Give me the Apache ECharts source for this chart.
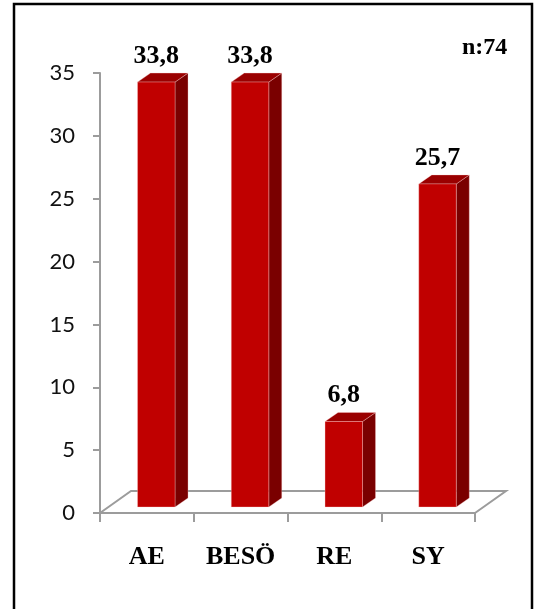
<!DOCTYPE html>
<html>
<head>
<meta charset="utf-8">
<script src="https://cdn.jsdelivr.net/npm/echarts@6/dist/echarts.min.js"></script>
<style>
  html, body { margin: 0; padding: 0; background: #ffffff; }
  #chart { width: 543px; height: 609px; }
</style>
</head>
<body>
<div id="chart"></div>
<script>
// Group shares (%) by category
const categories = ['AE', 'BESÖ', 'RE', 'SY'];
const values = [33.8, 33.8, 6.8, 25.7];
const yMin = 0;
const yMax = 35;
const yStep = 5;
const sampleNote = 'n:74';

const serifBold = '"Liberation Serif", "Times New Roman", serif';
const axisGray = '#9c9c9c';

// Pseudo-3D geometry (pixels)
const FLOOR_DX = 31, FLOOR_DY = -22;   // depth of the floor plate
const BAR_DX = 9.4, BAR_DY = -6;       // bar front face sits inside the floor
const SIDE_DX = 13, SIDE_DY = -9;      // bar thickness
const BAR_RATIO = 0.4;

function fmt(v) { return v.toFixed(1).replace('.', ','); }

const chart = echarts.init(document.getElementById('chart'), null, { renderer: 'canvas' });

const option = {
  backgroundColor: '#ffffff',
  animation: false,
  grid: { left: 100, right: 68, top: 73, bottom: 96 },
  xAxis: {
    type: 'category',
    data: categories,
    boundaryGap: true,
    axisLine: { show: true, lineStyle: { color: axisGray, width: 2 } },
    axisTick: { show: true, length: 9, lineStyle: { color: axisGray, width: 2 } },
    axisLabel: {
      margin: 44,
      verticalAlign: 'middle',
      fontFamily: serifBold,
      fontWeight: 'bold',
      fontSize: 26,
      color: '#000'
    },
    splitLine: { show: false }
  },
  yAxis: {
    type: 'value',
    min: yMin,
    max: yMax,
    interval: yStep,
    axisLine: { show: true, lineStyle: { color: axisGray, width: 2 } },
    axisTick: { show: true, length: 7, lineStyle: { color: axisGray, width: 2 } },
    axisLabel: { margin: 25, fontFamily: 'Lato, "Open Sans", sans-serif', fontSize: 22, color: '#111' },
    splitLine: { show: false }
  },
  graphic: [
    {
      type: 'rect',
      shape: { x: 14, y: 4, width: 518, height: 720 },
      style: { fill: 'transparent', stroke: '#000', lineWidth: 2.5 },
      silent: true
    },
    {
      type: 'text',
      x: 462,
      y: 47.5,
      style: {
        text: sampleNote,
        fontFamily: serifBold,
        fontWeight: 'bold',
        fontSize: 24,
        fill: '#000',
        align: 'left',
        verticalAlign: 'middle'
      },
      silent: true
    }
  ],
  series: [
    {
      // floor plate outline behind the bars
      type: 'custom',
      z: 1,
      data: [[0, 0]],
      encode: { x: 0, y: 1 },
      renderItem: function (params, api) {
        const cs = params.coordSys;
        const x0 = cs.x, x1 = cs.x + cs.width, yb = cs.y + cs.height;
        return {
          type: 'polyline',
          shape: {
            points: [
              [x0, yb],
              [x0 + FLOOR_DX, yb + FLOOR_DY],
              [x1 + FLOOR_DX, yb + FLOOR_DY],
              [x1, yb]
            ]
          },
          style: { stroke: axisGray, lineWidth: 2, fill: null }
        };
      }
    },
    {
      type: 'custom',
      z: 2,
      data: values.map((v, i) => [i, v]),
      encode: { x: 0, y: 1 },
      renderItem: function (params, api) {
        const idx = api.value(0);
        const val = api.value(1);
        const base = api.coord([idx, 0]);
        const top = api.coord([idx, val]);
        const band = api.size([1, 0])[0];
        const w = band * BAR_RATIO;
        const cx = base[0] + BAR_DX;
        const xL = cx - w / 2, xR = cx + w / 2;
        const yB = base[1] + BAR_DY, yT = top[1] + BAR_DY;
        const edge = { stroke: 'rgba(255,210,210,0.55)', lineWidth: 0.6 };
        return {
          type: 'group',
          children: [
            {
              type: 'polygon',
              shape: { points: [[xR, yT], [xR + SIDE_DX, yT + SIDE_DY], [xR + SIDE_DX, yB + SIDE_DY], [xR, yB]] },
              style: Object.assign({ fill: '#7a0000' }, edge)
            },
            {
              type: 'polygon',
              shape: { points: [[xL, yT], [xR, yT], [xR + SIDE_DX, yT + SIDE_DY], [xL + SIDE_DX, yT + SIDE_DY]] },
              style: Object.assign({ fill: '#9a0000' }, edge)
            },
            {
              type: 'rect',
              shape: { x: xL, y: yT, width: w, height: yB - yT },
              style: Object.assign({ fill: '#c00000' }, edge)
            },
            {
              type: 'text',
              x: cx,
              y: yT - 26,
              style: {
                text: fmt(val),
                fontFamily: serifBold,
                fontWeight: 'bold',
                fontSize: 26,
                fill: '#000',
                align: 'center',
                verticalAlign: 'middle'
              }
            }
          ]
        };
      }
    }
  ]
};

chart.setOption(option);
</script>
</body>
</html>
